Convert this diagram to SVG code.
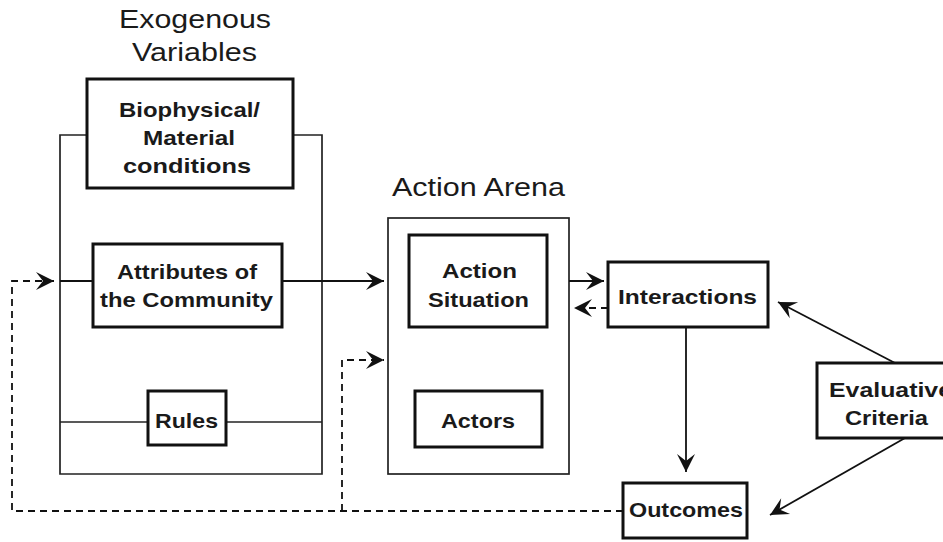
<svg xmlns="http://www.w3.org/2000/svg" width="943" height="542" viewBox="0 0 943 542">
<defs>
<style>
.box{fill:#fff;stroke:#111;stroke-width:3}
.frame{fill:none;stroke:#222;stroke-width:1.7}
.lbl{font-family:"Liberation Sans",Arial,sans-serif;font-weight:bold;font-size:21px;fill:#1a1a1a}
.ttl{font-family:"Liberation Sans",Arial,sans-serif;font-size:26px;fill:#1a1a1a}
.ln{fill:none;stroke:#111;stroke-width:1.8}
.dash{fill:none;stroke:#111;stroke-width:1.8;stroke-dasharray:7 5}
</style>
<marker id="ah" viewBox="-19 -10 20 20" refX="0" refY="0" markerWidth="20" markerHeight="20" markerUnits="userSpaceOnUse" orient="auto">
<path d="M0,0 L-18,-9 L-11,0 L-18,9 Z" fill="#111"/>
</marker>
</defs>
<rect width="943" height="542" fill="#fff"/>

<g id="exogenous">
<text class="ttl" x="119" y="28" textLength="152" lengthAdjust="spacingAndGlyphs">Exogenous</text>
<text class="ttl" x="132" y="61" textLength="125" lengthAdjust="spacingAndGlyphs">Variables</text>
<path class="frame" d="M87,135 H60 V474 H322 V135 H293"/>
<line class="frame" x1="60" y1="422" x2="322" y2="422"/>
</g>

<g id="biophysical">
<rect class="box" x="87" y="79" width="206" height="109"/>
<text class="lbl" x="119" y="117" textLength="141" lengthAdjust="spacingAndGlyphs">Biophysical/</text>
<text class="lbl" x="143" y="145" textLength="92" lengthAdjust="spacingAndGlyphs">Material</text>
<text class="lbl" x="123" y="173" textLength="128" lengthAdjust="spacingAndGlyphs">conditions</text>
</g>

<g id="attributes">
<rect class="box" x="93" y="244" width="189" height="83"/>
<text class="lbl" x="117" y="279" textLength="140" lengthAdjust="spacingAndGlyphs">Attributes of</text>
<text class="lbl" x="100" y="307" textLength="173" lengthAdjust="spacingAndGlyphs">the Community</text>
</g>

<g id="rules">
<rect class="box" x="148" y="391" width="78" height="54"/>
<text class="lbl" x="155" y="428" textLength="63" lengthAdjust="spacingAndGlyphs">Rules</text>
</g>

<g id="action-arena">
<text class="ttl" x="392" y="196" textLength="173" lengthAdjust="spacingAndGlyphs">Action Arena</text>
<rect class="frame" x="388" y="218" width="181" height="256"/>
</g>

<g id="action-situation">
<rect class="box" x="409" y="235" width="138" height="92"/>
<text class="lbl" x="442" y="278" textLength="75" lengthAdjust="spacingAndGlyphs">Action</text>
<text class="lbl" x="428" y="307" textLength="101" lengthAdjust="spacingAndGlyphs">Situation</text>
</g>

<g id="actors">
<rect class="box" x="415" y="391" width="127" height="56"/>
<text class="lbl" x="441" y="428" textLength="74" lengthAdjust="spacingAndGlyphs">Actors</text>
</g>

<g id="interactions">
<rect class="box" x="608" y="262" width="160" height="65"/>
<text class="lbl" x="618" y="304" textLength="139" lengthAdjust="spacingAndGlyphs">Interactions</text>
</g>

<g id="outcomes">
<rect class="box" x="623" y="483" width="124" height="55"/>
<text class="lbl" x="629" y="517" textLength="114" lengthAdjust="spacingAndGlyphs">Outcomes</text>
</g>

<g id="evaluative">
<rect class="box" x="817" y="363" width="140" height="75"/>
<text class="lbl" x="829" y="397" textLength="123" lengthAdjust="spacingAndGlyphs">Evaluative</text>
<text class="lbl" x="845" y="425" textLength="83" lengthAdjust="spacingAndGlyphs">Criteria</text>
</g>

<g id="connectors">
<line class="ln" x1="60" y1="281" x2="93" y2="281"/>
<line class="ln" x1="282" y1="281" x2="384" y2="281" marker-end="url(#ah)"/>
<path class="dash" d="M623,511 H12 V281 H54" marker-end="url(#ah)"/>
<path class="dash" d="M342,511 V360 H384" marker-end="url(#ah)"/>
<line class="ln" x1="569" y1="281" x2="604" y2="281" marker-end="url(#ah)"/>
<line class="dash" x1="608" y1="308" x2="574" y2="308" marker-end="url(#ah)"/>
<line class="ln" x1="686" y1="327" x2="686" y2="472" marker-end="url(#ah)"/>
<line class="ln" x1="895" y1="363" x2="778" y2="302" marker-end="url(#ah)"/>
<line class="ln" x1="905" y1="438" x2="770" y2="515" marker-end="url(#ah)"/>
</g>
</svg>
